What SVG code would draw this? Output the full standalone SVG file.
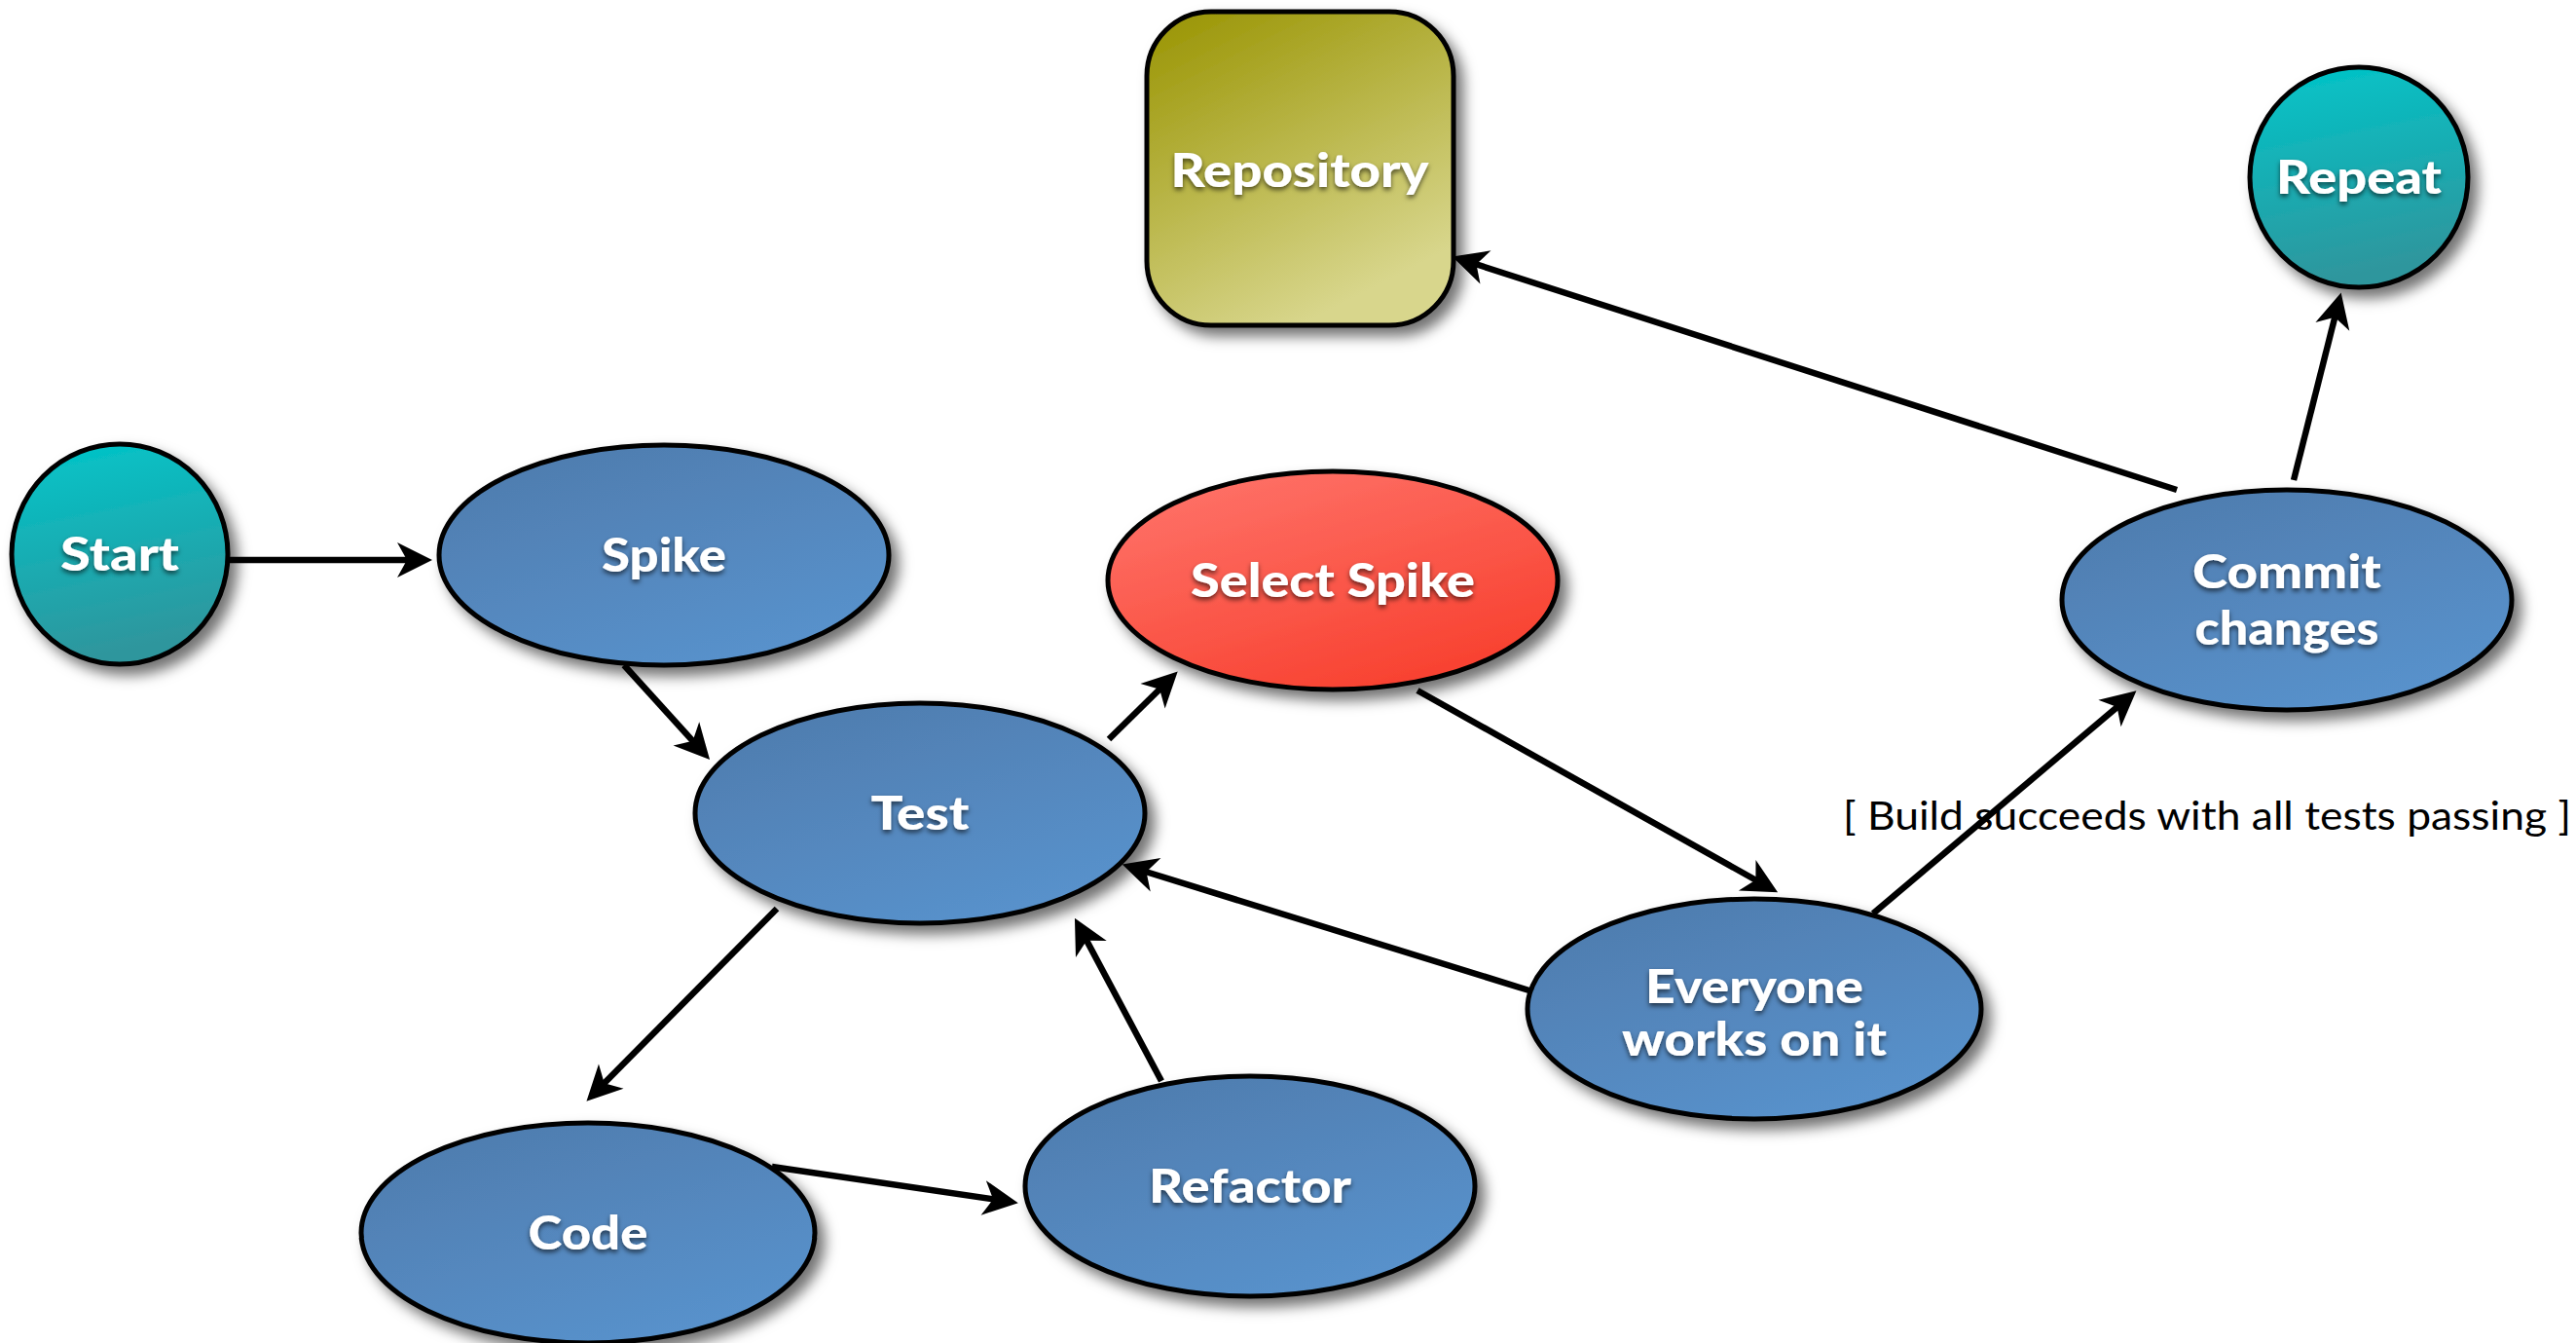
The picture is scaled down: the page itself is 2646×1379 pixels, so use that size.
<svg xmlns="http://www.w3.org/2000/svg" width="2646" height="1379" viewBox="0 0 2646 1379">
<style>
.node{stroke:#000;stroke-width:5}
.lbl{font-family:Lato,"Open Sans","DejaVu Sans",sans-serif;font-weight:900;font-size:48px;fill:#fff;text-anchor:middle}
.conn line{stroke:#000;stroke-width:6.5;marker-end:url(#arr)}
.guard{font-family:Lato,"Liberation Sans",sans-serif;font-size:40px;fill:#000}
</style>
<defs>
<linearGradient id="gBlue" x1="0" y1="0" x2="0.6" y2="1"><stop offset="0" stop-color="#4E7AAB"/><stop offset="1" stop-color="#5891CB"/></linearGradient>
<linearGradient id="gTeal" x1="0" y1="0" x2="0.2" y2="1"><stop offset="0" stop-color="#00C6CA"/><stop offset="1" stop-color="#2F969D"/></linearGradient>
<linearGradient id="gRed" x1="0" y1="0" x2="0.6" y2="1"><stop offset="0" stop-color="#FF776E"/><stop offset="1" stop-color="#F84231"/></linearGradient>
<linearGradient id="gOlive" x1="0" y1="0" x2="0.5" y2="1"><stop offset="0" stop-color="#989300"/><stop offset="1" stop-color="#D8D68C"/></linearGradient>
<filter id="sh" x="-20%" y="-20%" width="150%" height="150%"><feDropShadow dx="8" dy="9" stdDeviation="7" flood-color="#000" flood-opacity="0.55"/></filter>
<filter id="tsh" x="-10%" y="-30%" width="120%" height="170%"><feDropShadow dx="0" dy="3" stdDeviation="2.5" flood-color="#000" flood-opacity="0.6"/></filter>
<marker id="arr" markerUnits="userSpaceOnUse" viewBox="-22 -20 40 40" refX="0" refY="0" markerWidth="40" markerHeight="40" orient="auto"><path d="M15,0 L-21,-18 L-11,0 L-21,18 Z" fill="#000"/></marker>
</defs>
<rect width="2646" height="1379" fill="#fff"/>
<g id="connectors" class="conn">
<line x1="231" y1="575" x2="429" y2="575"/>
<line x1="641" y1="683" x2="719" y2="769"/>
<line x1="1139" y1="759" x2="1199" y2="700"/>
<line x1="1456" y1="709" x2="1813" y2="909"/>
<line x1="1574" y1="1018" x2="1167" y2="892"/>
<line x1="798" y1="933" x2="613" y2="1120"/>
<line x1="793" y1="1198" x2="1031" y2="1233"/>
<line x1="1193" y1="1110" x2="1111" y2="956"/>
<line x1="1924" y1="938" x2="2183" y2="719"/>
<line x1="2236" y1="503" x2="1506" y2="268"/>
<line x1="2356" y1="493" x2="2401" y2="315"/>
</g>
<g id="node-start"><ellipse class="node" cx="123" cy="569" rx="111" ry="113" fill="url(#gTeal)" filter="url(#sh)"/><text class="lbl" x="123" y="586" textLength="122" lengthAdjust="spacingAndGlyphs" filter="url(#tsh)">Start</text></g>
<g id="node-spike"><ellipse class="node" cx="682" cy="570" rx="231" ry="113" fill="url(#gBlue)" filter="url(#sh)"/><text class="lbl" x="682" y="587" textLength="128" lengthAdjust="spacingAndGlyphs" filter="url(#tsh)">Spike</text></g>
<g id="node-select-spike"><ellipse class="node" cx="1369" cy="596" rx="231" ry="112" fill="url(#gRed)" filter="url(#sh)"/><text class="lbl" x="1369" y="613" textLength="292" lengthAdjust="spacingAndGlyphs" filter="url(#tsh)">Select Spike</text></g>
<g id="node-test"><ellipse class="node" cx="945" cy="835" rx="231" ry="113" fill="url(#gBlue)" filter="url(#sh)"/><text class="lbl" x="945" y="852" textLength="101" lengthAdjust="spacingAndGlyphs" filter="url(#tsh)">Test</text></g>
<g id="node-code"><ellipse class="node" cx="604" cy="1266" rx="233" ry="113" fill="url(#gBlue)" filter="url(#sh)"/><text class="lbl" x="604" y="1283" textLength="123" lengthAdjust="spacingAndGlyphs" filter="url(#tsh)">Code</text></g>
<g id="node-refactor"><ellipse class="node" cx="1284" cy="1218" rx="231" ry="113" fill="url(#gBlue)" filter="url(#sh)"/><text class="lbl" x="1284" y="1235" textLength="208" lengthAdjust="spacingAndGlyphs" filter="url(#tsh)">Refactor</text></g>
<g id="node-everyone"><ellipse class="node" cx="1802" cy="1036" rx="233" ry="113" fill="url(#gBlue)" filter="url(#sh)"/><text class="lbl" x="1802" y="1030" textLength="224" lengthAdjust="spacingAndGlyphs" filter="url(#tsh)">Everyone</text><text class="lbl" x="1802" y="1084" textLength="272" lengthAdjust="spacingAndGlyphs" filter="url(#tsh)">works on it</text></g>
<g id="node-commit"><ellipse class="node" cx="2349" cy="616" rx="231" ry="113" fill="url(#gBlue)" filter="url(#sh)"/><text class="lbl" x="2349" y="604" textLength="194" lengthAdjust="spacingAndGlyphs" filter="url(#tsh)">Commit</text><text class="lbl" x="2349" y="662" textLength="189" lengthAdjust="spacingAndGlyphs" filter="url(#tsh)">changes</text></g>
<g id="node-repeat"><ellipse class="node" cx="2423" cy="182" rx="112" ry="113" fill="url(#gTeal)" filter="url(#sh)"/><text class="lbl" x="2423" y="199" textLength="170" lengthAdjust="spacingAndGlyphs" filter="url(#tsh)">Repeat</text></g>
<g id="node-repository"><rect class="node" x="1178" y="12" width="315" height="322" rx="66" ry="66" fill="url(#gOlive)" filter="url(#sh)"/><text class="lbl" x="1335" y="192" textLength="265" lengthAdjust="spacingAndGlyphs" filter="url(#tsh)">Repository</text></g>
<g id="guard-label"><text class="guard" x="1893" y="852" textLength="748" lengthAdjust="spacingAndGlyphs">[ Build succeeds with all tests passing ]</text></g>
</svg>
